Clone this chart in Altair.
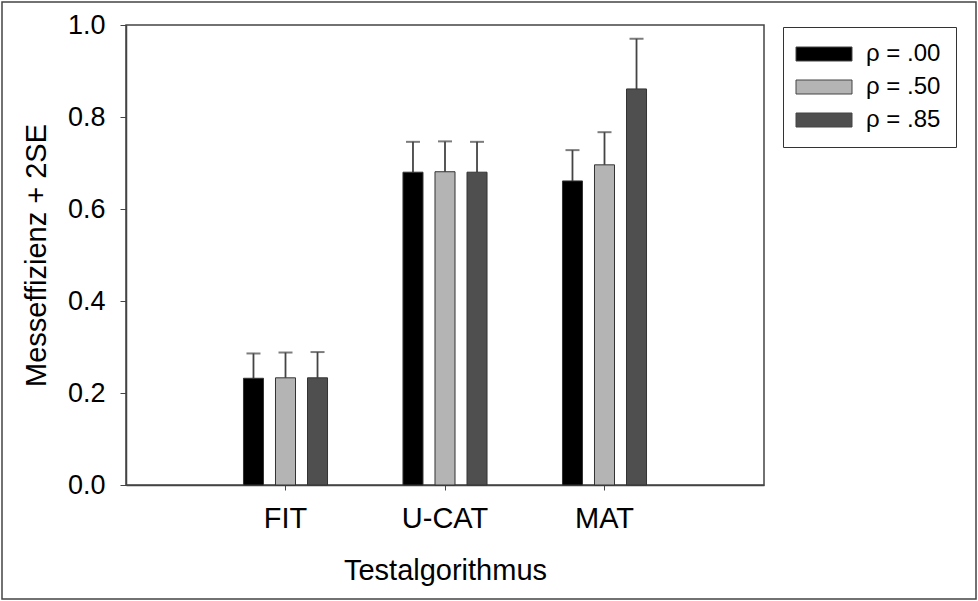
import altair as alt
import pandas as pd

algorithms = ["FIT", "U-CAT", "MAT"]
rho_labels = ["ρ = .00", "ρ = .50", "ρ = .85"]
means_00 = [0.232, 0.680, 0.661]
means_50 = [0.233, 0.681, 0.696]
means_85 = [0.233, 0.680, 0.861]
upper_00 = [0.286, 0.746, 0.728]
upper_50 = [0.288, 0.747, 0.767]
upper_85 = [0.289, 0.746, 0.970]
y_ticks = [0.0, 0.2, 0.4, 0.6, 0.8, 1.0]
bar_colors = ["#000000", "#b4b4b4", "#4f4f4f"]

rows = []
for lab, ms, us in zip(rho_labels, [means_00, means_50, means_85], [upper_00, upper_50, upper_85]):
    for a, m, u in zip(algorithms, ms, us):
        rows.append({"alg": a, "rho": lab, "mean": m, "upper": u})
df = pd.DataFrame(rows)

FONT = "Liberation Sans"

x = alt.X(
    "alg:N",
    sort=algorithms,
    scale=alt.Scale(paddingInner=0.473, paddingOuter=0.7365),
    axis=alt.Axis(
        title="Testalgorithmus", labelAngle=0, labelFontSize=29, titleFontSize=29,
        labelFont=FONT, titleFont=FONT, labelColor="#000", titleColor="#000",
        titleFontWeight="normal", tickSize=5, tickColor="#444", domainColor="#444",
        domainWidth=1.5, labelPadding=14, titlePadding=23,
    ),
)
xo = alt.XOffset("rho:N", sort=rho_labels, scale=alt.Scale(paddingInner=0.375))
y_axis = alt.Axis(
    title="Messeffizienz + 2SE", values=y_ticks, format=".1f", grid=False,
    labelFontSize=27, titleFontSize=29, labelFont=FONT, titleFont=FONT,
    labelColor="#000", titleColor="#000", titleFontWeight="normal",
    tickSize=6, tickColor="#444", domainColor="#444", domainWidth=1.5,
    labelPadding=15, titlePadding=16,
)
y_scale = alt.Scale(domain=[0, 1], nice=False)
y = alt.Y("mean:Q", scale=y_scale, axis=y_axis)
y_up = alt.Y("upper:Q", scale=y_scale, axis=y_axis)
color = alt.Color(
    "rho:N",
    sort=rho_labels,
    scale=alt.Scale(domain=rho_labels, range=bar_colors),
    legend=alt.Legend(
        title=None, orient="none", legendX=657, legendY=2,
        symbolType="M-2,-1L6,-1L6,1L-2,1Z", symbolSize=196,
        symbolStrokeColor="#444", symbolStrokeWidth=1, symbolOpacity=1,
        labelFontSize=24, labelFont=FONT, labelColor="#000", labelOffset=44,
        strokeColor="#333", fillColor="#ffffff", padding=15, rowPadding=9,
    ),
)

bars = alt.Chart(df).mark_bar(stroke="#333", strokeWidth=1).encode(x=x, xOffset=xo, y=y, color=color)
rules = alt.Chart(df).mark_rule(color="#444", strokeWidth=1.8).encode(
    x=x, xOffset=xo, y=y, y2="upper:Q"
)
caps = alt.Chart(df).mark_tick(color="#444", thickness=2, size=14, orient="horizontal").encode(
    x=x, xOffset=xo, y=y_up
)
frame = alt.Chart(pd.DataFrame({"k": [0]})).mark_rect(
    fillOpacity=0, stroke="#444", strokeWidth=1.5, clip=False
).encode(
    x=alt.value(-124), x2=alt.value(850), y=alt.value(-23), y2=alt.value(574)
)

chart = (
    alt.layer(rules, bars, caps, frame)
    .properties(
        width=638, height=460,
        autosize=alt.AutoSizeParams(type="none"),
        padding={"left": 126, "top": 25, "right": 214, "bottom": 116},
        background="#ffffff",
    )
    .configure_view(stroke="#444", strokeWidth=1.5)
)

chart.save("out.html", embed_options={"renderer": "svg", "actions": False})
